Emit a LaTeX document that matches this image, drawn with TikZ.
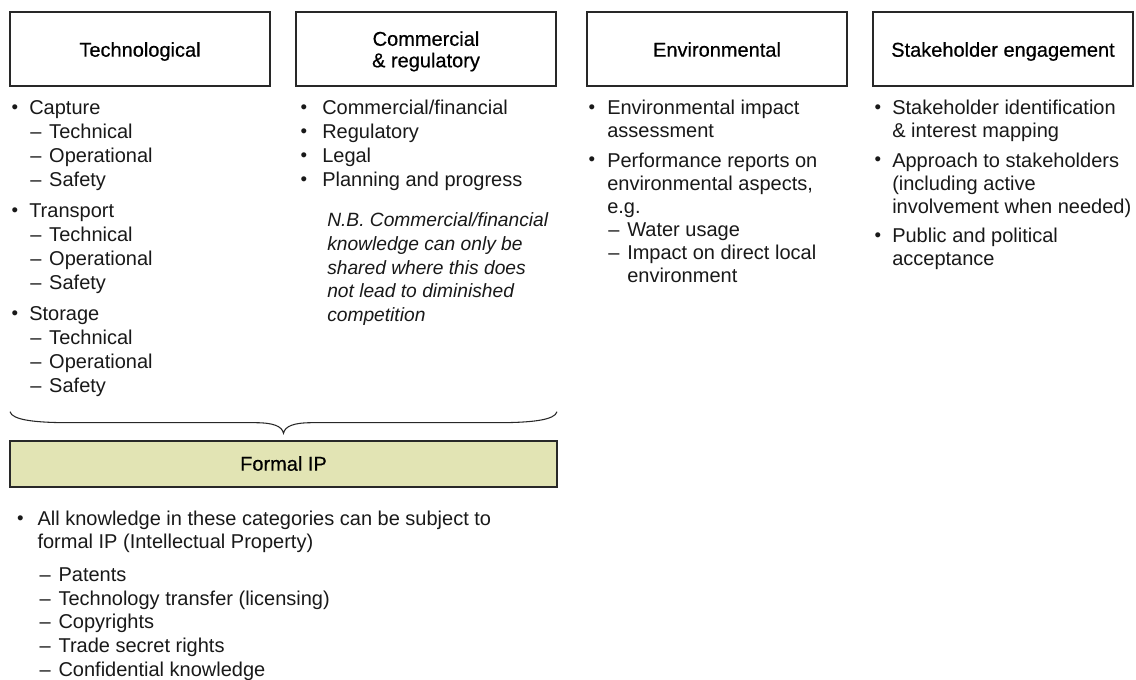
\documentclass[tikz,border=0pt]{standalone}
\usepackage{fontspec}
\setmainfont{Liberation Sans}
\newfontfamily\hdrfont[FakeBold=0.5]{Liberation Sans}
\definecolor{ipfill}{RGB}{226,228,180}
\definecolor{lineclr}{RGB}{40,40,40}
\newcommand{\dashitem}[1]{–\hspace{5.9pt}#1}
\begin{document}
\begin{tikzpicture}[x=0.75pt,y=-0.75pt,
  box/.style={draw=lineclr,line width=0.9pt,inner sep=0pt,minimum width=195pt,minimum height=55.5pt},
  txt/.style={inner sep=0pt,anchor=base west,font=\fontsize{15pt}{18pt}\selectfont,text=black!90},
  itxt/.style={inner sep=0pt,anchor=base west,font=\fontsize{14.4pt}{18pt}\selectfont\itshape,text=black!90},
  hdr/.style={inner sep=0pt,anchor=base,font=\hdrfont\fontsize{15pt}{18pt}\selectfont,text=black},
  bul/.style={inner sep=0pt,anchor=base,font=\fontsize{14pt}{16pt}\selectfont,text=black!90,yshift=1.2pt}]
\useasboundingbox (0,0) rectangle (1136,680);
\fill[white] (0,0) rectangle (1136,680);

% header boxes
\node[box] (b1) at (140,49) {};
\node[box] (b2) at (426,49) {};
\node[box] (b3) at (717,49) {};
\node[box] (b4) at (1003,49) {};
\node[hdr] (h1) at (140,56.7) {Technological};
\node[hdr] (h2a) at (426,45.8) {Commercial};
\node[hdr] (h2b) at (426,67.3) {\& regulatory};
\node[hdr] (h3) at (717,56.7) {Environmental};
\node[hdr] (h4) at (1003,56.7) {Stakeholder engagement};

% Technological column
\node[bul] (t1b) at (15,115) {•};
\node[txt] (t1) at (29,115) {Capture};
\node[txt] (t2) at (30,139) {\dashitem{Technical}};
\node[txt] (t3) at (30,163) {\dashitem{Operational}};
\node[txt] (t4) at (30,187) {\dashitem{Safety}};
\node[bul] (t5b) at (15,218) {•};
\node[txt] (t5) at (29,218) {Transport};
\node[txt] (t6) at (30,242) {\dashitem{Technical}};
\node[txt] (t7) at (30,266) {\dashitem{Operational}};
\node[txt] (t8) at (30,290) {\dashitem{Safety}};
\node[bul] (t9b) at (15,321) {•};
\node[txt] (t9) at (29,321) {Storage};
\node[txt] (t10) at (30,345) {\dashitem{Technical}};
\node[txt] (t11) at (30,369) {\dashitem{Operational}};
\node[txt] (t12) at (30,393) {\dashitem{Safety}};

% Commercial column
\node[bul] (c1b) at (304,115) {•};
\node[txt] (c1) at (322,115) {Commercial/financial};
\node[bul] (c2b) at (304,139) {•};
\node[txt] (c2) at (322,139) {Regulatory};
\node[bul] (c3b) at (304,163) {•};
\node[txt] (c3) at (322,163) {Legal};
\node[bul] (c4b) at (304,187) {•};
\node[txt] (c4) at (322,187) {Planning and progress};
\node[itxt] (n1) at (327,226.7) {N.B. Commercial/financial};
\node[itxt] (n2) at (327,250.5) {knowledge can only be};
\node[itxt] (n3) at (327,274.3) {shared where this does};
\node[itxt] (n4) at (327,298) {not lead to diminished};
\node[itxt] (n5) at (327,321.8) {competition};

% Environmental column
\node[bul] (e1b) at (592,115) {•};
\node[txt] (e1) at (607,115) {Environmental impact};
\node[txt] (e2) at (607,138) {assessment};
\node[bul] (e3b) at (592,167.5) {•};
\node[txt] (e3) at (607,167.5) {Performance reports on};
\node[txt] (e4) at (607,190.5) {environmental aspects,};
\node[txt] (e5) at (607,213.5) {e.g.};
\node[txt] (e6) at (608,237) {\dashitem{Water usage}};
\node[txt] (e7) at (608,260) {\dashitem{Impact on direct local}};
\node[txt] (e8) at (627,283) {environment};

% Stakeholder column
\node[bul] (s1b) at (878,115) {•};
\node[txt] (s1) at (892,115) {Stakeholder identification};
\node[txt] (s2) at (892,138) {\& interest mapping};
\node[bul] (s3b) at (878,167.5) {•};
\node[txt] (s3) at (892,167.5) {Approach to stakeholders};
\node[txt] (s4) at (892,190.5) {(including active};
\node[txt] (s5) at (892,213.5) {involvement when needed)};
\node[bul] (s6b) at (878,243) {•};
\node[txt] (s6) at (892,243) {Public and political};
\node[txt] (s7) at (892,266) {acceptance};

% brace
\coordinate (brL) at (10,411.7);
\coordinate (brM) at (283.5,433.3);
\coordinate (brR) at (557,411.7);
\draw[lineclr,line width=0.8pt]
  (brL) .. controls (12,420) and (35,422.7) .. (70,422.7)
  -- (255,422.7) .. controls (273,422.7) and (282,426) .. (brM)
  .. controls (285,426) and (294,422.7) .. (312,422.7)
  -- (497,422.7) .. controls (532,422.7) and (555,420) .. (brR);

% Formal IP box
\node[box,fill=ipfill,minimum width=410.25pt,minimum height=34.5pt] (ip) at (283.5,464) {};
\node[hdr] (iptxt) at (283.5,470.7) {Formal IP};

% bottom text
\node[bul] (f1b) at (20.5,526) {•};
\node[txt] (f1) at (37.3,526) {All knowledge in these categories can be subject to};
\node[txt] (f2) at (37.3,548.5) {formal IP (Intellectual Property)};
\node[txt] (f3) at (39.3,582) {\dashitem{Patents}};
\node[txt] (f4) at (39.3,605.5) {\dashitem{Technology transfer (licensing)}};
\node[txt] (f5) at (39.3,629) {\dashitem{Copyrights}};
\node[txt] (f6) at (39.3,653) {\dashitem{Trade secret rights}};
\node[txt] (f7) at (39.3,676.5) {\dashitem{Confidential knowledge}};
\end{tikzpicture}
\end{document}
